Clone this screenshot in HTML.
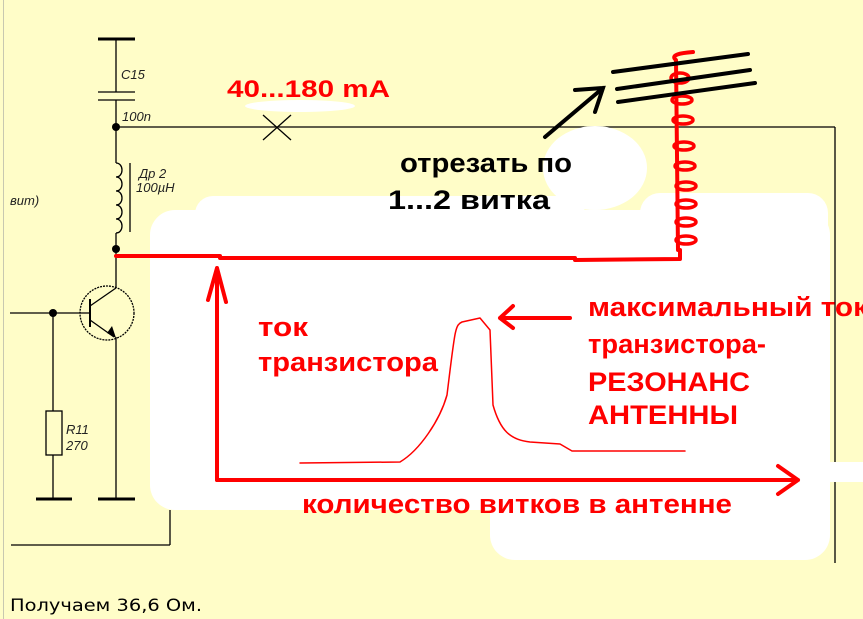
<!DOCTYPE html>
<html><head><meta charset="utf-8"><style>
html,body{margin:0;padding:0;background:#FFFDC8;}
svg{display:block}
</style></head><body>
<svg width="863" height="619" viewBox="0 0 863 619" xmlns="http://www.w3.org/2000/svg" font-family="Liberation Sans, sans-serif">
<rect width="863" height="619" fill="#FFFDC8"/>
<line x1="3.5" y1="0" x2="3.5" y2="619" stroke="#c8c8b0" stroke-width="1"/>
<!-- circuit -->
<g stroke="#000" stroke-width="1.3" fill="none">
<line x1="98" y1="39" x2="135" y2="39" stroke-width="3"/>
<line x1="116" y1="39" x2="116" y2="92"/>
<line x1="98" y1="92" x2="135" y2="92"/>
<line x1="98" y1="100" x2="135" y2="100"/>
<line x1="116" y1="100" x2="116" y2="163"/>
<line x1="116" y1="127" x2="835" y2="127"/>
<path d="M116 163 c8 0 8 14 0 14 c8 0 8 14 0 14 c8 0 8 14 0 14 c8 0 8 14 0 14 c8 0 8 14 0 14"/>
<line x1="130" y1="163" x2="130" y2="232"/>
<line x1="116" y1="233" x2="116" y2="288"/>
<circle cx="107" cy="313" r="27" stroke-dasharray="2 1"/>
<line x1="10" y1="313" x2="90" y2="313"/>
<line x1="90" y1="299" x2="90" y2="327" stroke-width="2"/>
<line x1="90" y1="306" x2="116" y2="288"/>
<line x1="90" y1="320" x2="114" y2="337"/>
<line x1="116" y1="337" x2="116" y2="499"/>
<line x1="98" y1="499" x2="135" y2="499" stroke-width="3"/>
<line x1="53" y1="313" x2="53" y2="411"/>
<rect x="46" y="411" width="16" height="44"/>
<line x1="53" y1="455" x2="53" y2="499"/>
<line x1="36" y1="499" x2="72" y2="499" stroke-width="3"/>
<line x1="11" y1="545" x2="170" y2="545"/>
<line x1="170" y1="510" x2="170" y2="545"/>
<line x1="835" y1="127" x2="835" y2="563"/>
<line x1="263" y1="115" x2="291" y2="140"/>
<line x1="263" y1="140" x2="291" y2="115"/>
</g>
<polygon points="107,333 116,338 112,326" fill="#000"/>
<circle cx="116" cy="127" r="4" fill="#000"/>
<circle cx="116" cy="249" r="4" fill="#000"/>
<circle cx="53" cy="313" r="4" fill="#000"/>
<g font-style="italic" font-size="13" fill="#222">
<text x="121" y="79">C15</text>
<text x="122" y="121">100n</text>
<text x="139" y="178">Др 2</text>
<text x="136" y="192">100µH</text>
<text x="10" y="205">вит)</text>
<text x="66" y="434">R11</text>
<text x="66" y="450">270</text>
</g>
<!-- white blobs -->
<g fill="#fff">
<rect x="150" y="210" width="680" height="300" rx="25"/>
<rect x="490" y="300" width="340" height="260" rx="25"/>
<rect x="195" y="196" width="390" height="40" rx="18"/>
<ellipse cx="595" cy="168" rx="52" ry="42"/>
<rect x="640" y="193" width="188" height="60" rx="20"/>
<rect x="770" y="462" width="93" height="20"/>
<ellipse cx="300" cy="106" rx="55" ry="6"/>
</g>
<!-- red -->
<g stroke="#f00" fill="none" stroke-linecap="round" stroke-linejoin="round">
<path d="M116 256 L220 256 L220 258 L575 258 L575 260 L680 259 L680 250" stroke-width="4"/>
<path d="M678 250 L676 60 C670 55 680 53 693 52" stroke-width="4"/>
<g stroke-width="3.5">
<ellipse cx="686" cy="240" rx="10" ry="4"/>
<ellipse cx="686" cy="222" rx="10" ry="4"/>
<ellipse cx="686" cy="204" rx="10" ry="4"/>
<ellipse cx="686" cy="186" rx="10" ry="4"/>
<ellipse cx="685" cy="166" rx="10" ry="4"/>
<ellipse cx="684" cy="146" rx="10" ry="4"/>
<ellipse cx="683" cy="120" rx="10" ry="4"/>
<ellipse cx="682" cy="100" rx="10" ry="4"/>
<ellipse cx="680" cy="78" rx="9" ry="5"/>
</g>
<path d="M217 480 L217 268 M208 300 L217 268 L226 302" stroke-width="4"/>
<path d="M217 480 L798 480 M778 466 L798 480 L778 494" stroke-width="4"/>
<path d="M300 463 L400 462 C420 450 440 420 447 395 C455 330 455 325 462 322 L480 318 L490 330 L493 405 C500 430 510 440 530 442 L560 444 L572 451 L685 451" stroke-width="1.5"/>
<path d="M500 318 L570 318 M513 306 L500 318 L513 328" stroke-width="4"/>
</g>
<!-- black arrow + cut lines -->
<g stroke="#000" stroke-width="4" stroke-linecap="round" fill="none">
<path d="M545 137 L603 88 M575 90 L603 88 L595 112"/>
<line x1="613" y1="72" x2="748" y2="54"/>
<line x1="617" y1="89" x2="750" y2="70"/>
<line x1="618" y1="102" x2="755" y2="83"/>
</g>
<g font-weight="bold" fill="#f00">
<text x="227" y="97" font-size="24" textLength="163" lengthAdjust="spacingAndGlyphs">40...180 mA</text>
<text x="258" y="336" font-size="27" textLength="50" lengthAdjust="spacingAndGlyphs">ток</text>
<text x="258" y="371" font-size="27" textLength="180" lengthAdjust="spacingAndGlyphs">транзистора</text>
<text x="588" y="316" font-size="27" textLength="280" lengthAdjust="spacingAndGlyphs">максимальный ток</text>
<text x="588" y="353" font-size="27" textLength="178" lengthAdjust="spacingAndGlyphs">транзистора-</text>
<text x="588" y="391" font-size="27" textLength="162" lengthAdjust="spacingAndGlyphs">РЕЗОНАНС</text>
<text x="588" y="424" font-size="27" textLength="150" lengthAdjust="spacingAndGlyphs">АНТЕННЫ</text>
<text x="302" y="513" font-size="27" textLength="430" lengthAdjust="spacingAndGlyphs">количество витков в антенне</text>
</g>
<g font-weight="bold" fill="#000" font-size="27">
<text x="400" y="172" textLength="172" lengthAdjust="spacingAndGlyphs">отрезать по</text>
<text x="388" y="209" textLength="162" lengthAdjust="spacingAndGlyphs">1...2 витка</text>
</g>
<text x="10" y="611" font-family="DejaVu Sans, sans-serif" font-size="17" fill="#000" textLength="192" lengthAdjust="spacingAndGlyphs">Получаем 36,6 Ом.</text>
</svg>
</body></html>
